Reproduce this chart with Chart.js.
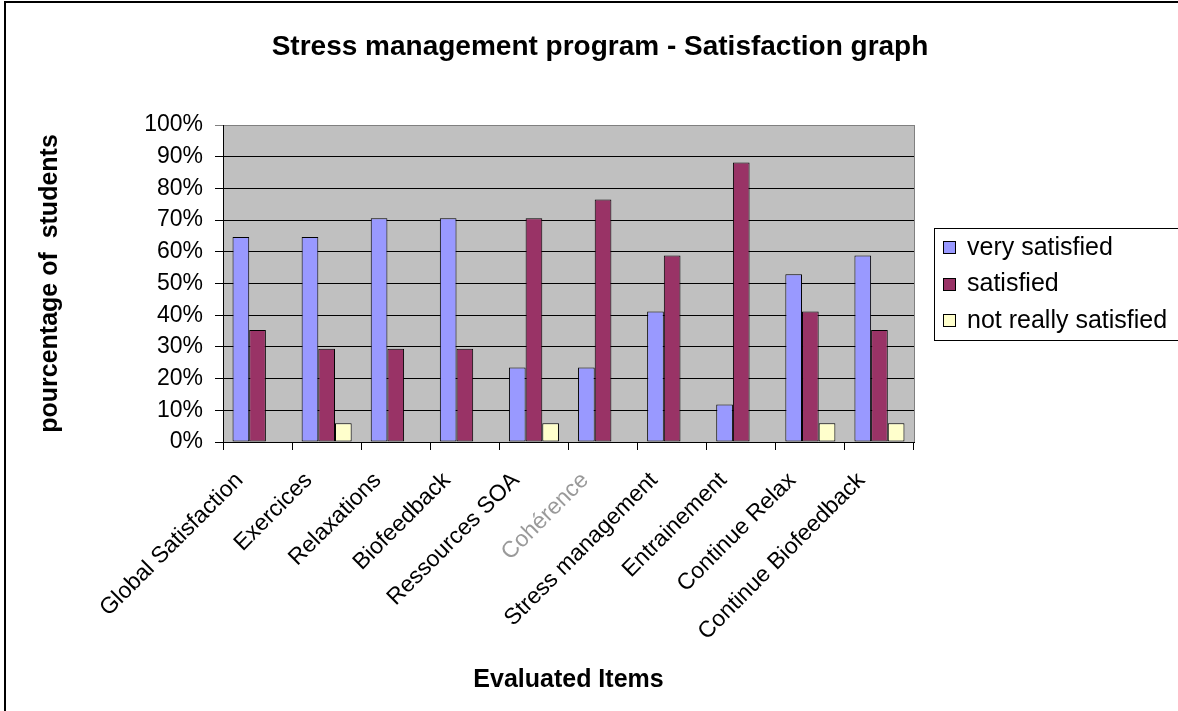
<!DOCTYPE html>
<html>
<head>
<meta charset="utf-8">
<title>Stress management program - Satisfaction graph</title>
<script src="https://cdn.jsdelivr.net/npm/chart.js@4.4.1/dist/chart.umd.min.js"></script>
<style>
    html, body { margin: 0; padding: 0; background: #fff; overflow: hidden; }
    #wrap { position: relative; width: 1178px; height: 711px; }
</style>
</head>
<body>
<div id="wrap"><canvas id="satisfactionChart"></canvas></div>
<script>
// Evaluated items (x axis)
const categories = [
    'Global Satisfaction', 'Exercices', 'Relaxations', 'Biofeedback', 'Ressources SOA',
    'Cohérence', 'Stress management', 'Entrainement', 'Continue Relax', 'Continue Biofeedback'
];

// Percentage of students per answer
const verySatisfied      = [64.7, 64.7, 70.6, 70.6, 23.5, 23.5, 41.2, 11.8, 52.9, 58.8];
const satisfied          = [35.3, 29.4, 29.4, 29.4, 70.6, 76.5, 58.8, 88.2, 41.2, 35.3];
const notReallySatisfied = [0, 5.9, 0, 0, 5.9, 0, 0, 0, 5.9, 5.9];

const seriesLabels = ['very satisfied', 'satisfied', 'not really satisfied'];
const seriesColors = ['#9999FF', '#993366', '#FFFFCC'];

// y axis ticks: 0% .. 100%
const yTicks = [0, 10, 20, 30, 40, 50, 60, 70, 80, 90, 100];

const FONT = '"Liberation Sans", Arial, sans-serif';
Chart.defaults.font.family = FONT;
Chart.defaults.color = '#000';

// grey plot area, grey right edge and outer frame
const plotBackground = {
    id: 'plotBackground',
    beforeDraw(chart) {
        const { ctx, chartArea: a } = chart;
        ctx.save();
        ctx.fillStyle = '#C0C0C0';
        ctx.fillRect(a.left, a.top, a.right - a.left, a.bottom - a.top);
        ctx.restore();
    },
    beforeDatasetsDraw(chart) {
        const { ctx, chartArea: a } = chart;
        ctx.save();
        ctx.strokeStyle = '#808080';
        ctx.lineWidth = 1;
        ctx.beginPath();
        ctx.moveTo(Math.round(a.right) + 0.5, a.top);
        ctx.lineTo(Math.round(a.right) + 0.5, a.bottom);
        ctx.stroke();
        ctx.restore();
    },
    afterDraw(chart) {
        const { ctx, width, height } = chart;
        ctx.save();
        ctx.strokeStyle = '#000';
        ctx.lineWidth = 2;
        ctx.beginPath();
        ctx.moveTo(5, height);
        ctx.lineTo(5, 2);
        ctx.lineTo(width, 2);
        ctx.stroke();
        ctx.restore();
    }
};

// boxed legend on the right, Excel style
const boxedLegend = {
    id: 'boxedLegend',
    afterDraw(chart) {
        const { ctx, chartArea: a } = chart;
        const left = a.right + 20;
        const mid = (a.top + a.bottom) / 2;
        const rowGap = 36.5;
        ctx.save();
        ctx.strokeStyle = '#000';
        ctx.lineWidth = 1;
        ctx.strokeRect(left + 0.5, Math.round(mid - 56) + 0.5, 300, 112);
        ctx.font = '25px ' + FONT;
        ctx.textBaseline = 'middle';
        chart.data.datasets.forEach((ds, i) => {
            const y = mid + (i - 1) * rowGap;
            ctx.fillStyle = ds.backgroundColor;
            ctx.fillRect(left + 9, Math.round(y - 6), 12, 12);
            ctx.strokeRect(left + 9.5, Math.round(y - 6) + 0.5, 12, 12);
            ctx.fillStyle = '#000';
            ctx.fillText(ds.label, left + 33, y + 1);
        });
        ctx.restore();
    }
};

const makeDataset = (label, data, color) => ({
    label: label,
    data: data,
    backgroundColor: color,
    borderColor: '#000',
    borderWidth: 1,
    borderSkipped: false,
    categoryPercentage: 0.724,
    barPercentage: 1.0
});

new Chart(document.getElementById('satisfactionChart'), {
    type: 'bar',
    data: {
        labels: categories,
        datasets: [
            makeDataset(seriesLabels[0], verySatisfied, seriesColors[0]),
            makeDataset(seriesLabels[1], satisfied, seriesColors[1]),
            makeDataset(seriesLabels[2], notReallySatisfied, seriesColors[2])
        ]
    },
    options: {
        responsive: true,
        maintainAspectRatio: false,
        animation: false,
        layout: { padding: { left: 22, right: 0, top: 0, bottom: 0 } },
        plugins: {
            legend: { display: false },
            tooltip: { enabled: false },
            title: {
                display: true,
                text: 'Stress management program - Satisfaction graph',
                color: '#000',
                font: { size: 28, weight: 'bold' },
                padding: { top: 30.2, bottom: 61.2 }
            }
        },
        scales: {
            x: {
                grid: {
                    display: true,
                    offset: true,
                    drawOnChartArea: false,
                    drawTicks: true,
                    tickLength: 8,
                    color: '#000'
                },
                border: { display: true, color: '#000', width: 1 },
                ticks: {
                    autoSkip: false,
                    minRotation: 45,
                    maxRotation: 45,
                    labelOffset: -18,
                    padding: 17,
                    font: { size: 23 },
                    color: (c) => (c.index === 5 ? '#9a9a9a' : '#000')
                },
                title: {
                    display: true,
                    text: 'Evaluated Items',
                    color: '#000',
                    font: { size: 25, weight: 'bold' },
                    padding: { top: 0, bottom: 16 }
                },
                afterFit(scale) { scale.height = 269; }
            },
            y: {
                min: 0,
                max: 100,
                afterBuildTicks(scale) { scale.ticks = yTicks.map(v => ({ value: v })); },
                grid: {
                    color: (c) => (c.tick && c.tick.value === 100 ? '#808080' : '#000'),
                    tickLength: 8,
                    lineWidth: 1
                },
                border: { display: true, color: '#000', width: 1 },
                ticks: {
                    padding: 12,
                    font: { size: 23 },
                    callback: (v) => v + '%'
                },
                title: {
                    display: true,
                    text: 'pourcentage of  students',
                    color: '#000',
                    font: { size: 25, weight: 'bold' },
                    padding: { top: 13, bottom: 0 }
                },
                afterFit(scale) { scale.width = 201; }
            },
            // empty right-hand box that keeps room for the legend
            legendSpace: {
                axis: 'y',
                type: 'linear',
                position: 'right',
                grid: { display: false },
                border: { display: false },
                ticks: { display: false },
                afterFit(scale) { scale.width = 264; }
            }
        }
    },
    plugins: [plotBackground, boxedLegend]
});
</script>
</body>
</html>
